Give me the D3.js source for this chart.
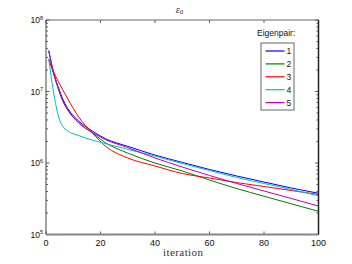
<!DOCTYPE html>
<html lang="en">
<head>
  <meta charset="UTF-8">
  <title>epsilon_0</title>
  <script src="https://d3js.org/d3.v7.min.js"></script>
  <style>
    body { margin: 0; background: #fff; }
    svg { display: block; }
    .sans { font-family: "Liberation Sans", Arial, sans-serif; }
    .serif { font-family: "Liberation Serif", "DejaVu Serif", "Times New Roman", serif; font-weight: normal; }
  </style>
</head>
<body>
  <div id="chart"></div>
  <script>
    const width = 352;
    const height = 264;

    // iterations
    const iterations = [1, 3, 5, 6, 8, 12, 17, 22, 30, 40, 50, 60, 70, 80, 90, 100];

    const pair1 = [3.72e7, 1.71e7, 1.016e7, 8.11e6, 5.78e6, 3.87e6, 2.80e6, 2.17e6, 1.71e6, 1.29e6, 1.02e6, 8.11e5, 6.58e5, 5.42e5, 4.47e5, 3.77e5];
    const pair2 = [2.85e7, 1.67e7, 9.53e6, 7.60e6, 5.51e6, 3.68e6, 2.63e6, 1.90e6, 1.375e6, 1.00e6, 7.73e5, 5.78e5, 4.39e5, 3.43e5, 2.69e5, 2.11e5];
    const pair3 = [2.85e7, 1.81e7, 1.27e7, 1.08e7, 7.86e6, 4.40e6, 2.63e6, 1.70e6, 1.175e6, 9.08e5, 7.13e5, 6.17e5, 5.32e5, 4.69e5, 4.12e5, 3.63e5];
    const pair4 = [2.85e7, 8.65e6, 3.97e6, 3.32e6, 2.81e6, 2.42e6, 2.09e6, 1.86e6, 1.55e6, 1.25e6, 9.84e5, 7.86e5, 6.27e5, 5.17e5, 4.26e5, 3.49e5];
    const pair5 = [3.72e7, 1.70e7, 9.84e6, 7.73e6, 5.51e6, 3.63e6, 2.67e6, 2.11e6, 1.64e6, 1.175e6, 8.79e5, 6.69e5, 5.17e5, 4.06e5, 3.19e5, 2.50e5];

    const labels = ["1", "2", "3", "4", "5"];
    const colors = ["#0000ff", "#008000", "#ff0000", "#00bfbf", "#bf00bf"];
    const seriesValues = [pair1, pair2, pair3, pair4, pair5];

    const xTicks = [0, 20, 40, 60, 80, 100];
    const yDecades = [5, 6, 7, 8];

    const margin = { top: 20, right: 33.5, bottom: 29.5, left: 46 };
    const iw = width - margin.left - margin.right;
    const ih = height - margin.top - margin.bottom;

    const svg = d3.select("#chart").append("svg")
      .attr("width", width)
      .attr("height", height);

    const g = svg.append("g")
      .attr("transform", `translate(${margin.left},${margin.top})`);

    const x = d3.scaleLinear().domain([0, 100]).range([0, iw]);
    const y = d3.scaleLog().domain([1e5, 1e8]).range([ih, 0]);

    // minor log ticks
    const minor = [];
    yDecades.slice(0, 3).forEach(e => {
      for (let m = 2; m <= 9; m++) minor.push(m * Math.pow(10, e));
    });

    const tickG = g.append("g").attr("stroke", "#333").attr("stroke-width", 0.8);
    minor.forEach(v => {
      tickG.append("line").attr("x1", 0).attr("x2", 2).attr("y1", y(v)).attr("y2", y(v));
      tickG.append("line").attr("x1", iw).attr("x2", iw - 2).attr("y1", y(v)).attr("y2", y(v));
    });
    yDecades.forEach(e => {
      const v = Math.pow(10, e);
      tickG.append("line").attr("x1", 0).attr("x2", 3.5).attr("y1", y(v)).attr("y2", y(v));
      tickG.append("line").attr("x1", iw).attr("x2", iw - 3.5).attr("y1", y(v)).attr("y2", y(v));
    });
    xTicks.forEach(t => {
      tickG.append("line").attr("x1", x(t)).attr("x2", x(t)).attr("y1", ih).attr("y2", ih - 3);
      tickG.append("line").attr("x1", x(t)).attr("x2", x(t)).attr("y1", 0).attr("y2", 3);
    });

    // curves
    const line = d3.line()
      .x(d => x(d[0]))
      .y(d => y(d[1]))
      .curve(d3.curveMonotoneX);

    seriesValues.forEach((vals, i) => {
      g.append("path")
        .datum(iterations.map((it, k) => [it, vals[k]]))
        .attr("fill", "none")
        .attr("stroke", colors[i])
        .attr("stroke-width", 1)
        .attr("d", line);
    });

    // box
    g.append("line").attr("x1", 0).attr("x2", iw).attr("y1", 0).attr("y2", 0)
      .attr("stroke", "#666").attr("stroke-width", 1);
    g.append("line").attr("x1", 0).attr("x2", 0).attr("y1", 0).attr("y2", ih)
      .attr("stroke", "#444").attr("stroke-width", 1);
    g.append("line").attr("x1", 0).attr("x2", iw).attr("y1", ih).attr("y2", ih)
      .attr("stroke", "#888").attr("stroke-width", 2);
    g.append("line").attr("x1", iw).attr("x2", iw).attr("y1", 0).attr("y2", ih)
      .attr("stroke", "#222").attr("stroke-width", 1.5);

    // x tick labels
    g.selectAll(".xlab").data(xTicks).enter().append("text")
      .attr("class", "sans")
      .attr("x", d => x(d))
      .attr("y", ih + 11)
      .attr("text-anchor", "middle")
      .attr("font-size", 9)
      .attr("fill", "#111")
      .text(d => d);

    // y tick labels 10^n
    yDecades.forEach(e => {
      const t = g.append("text")
        .attr("class", "sans")
        .attr("x", -3)
        .attr("y", y(Math.pow(10, e)) + 3)
        .attr("text-anchor", "end")
        .attr("font-size", 8.5)
        .attr("fill", "#111");
      t.append("tspan").text("10");
      t.append("tspan").attr("font-size", 5.5).attr("dy", -3.5).text(e);
    });

    // x axis label
    svg.append("text")
      .attr("class", "serif")
      .attr("x", margin.left + x(50) + 1)
      .attr("y", 256)
      .attr("text-anchor", "middle")
      .attr("font-size", 11)
      .attr("letter-spacing", 0.4)
      .attr("fill", "#333")
      .text("iteration");

    // title
    const title = svg.append("text")
      .attr("class", "serif")
      .attr("x", 179.5)
      .attr("y", 12.5)
      .attr("text-anchor", "middle")
      .attr("font-size", 10.5)
      .attr("fill", "#333");
    title.append("tspan").attr("font-style", "italic").text("ε");
    title.append("tspan").attr("font-size", 7).attr("dy", 1.8).text("0");

    // legend
    svg.append("text")
      .attr("class", "sans")
      .attr("x", 257)
      .attr("y", 36)
      .attr("font-size", 8.5)
      .attr("fill", "#111")
      .text("Eigenpair:");

    const lg = svg.append("g").attr("transform", "translate(261,43)");
    lg.append("rect")
      .attr("width", 33).attr("height", 67)
      .attr("fill", "#fff")
      .attr("stroke", "#666").attr("stroke-width", 1);

    labels.forEach((lab, i) => {
      const yy = 8 + i * 12.9;
      lg.append("line")
        .attr("x1", 4.5).attr("x2", 23.5)
        .attr("y1", yy).attr("y2", yy)
        .attr("stroke", colors[i]).attr("stroke-width", 1.2);
      lg.append("text")
        .attr("class", "sans")
        .attr("x", 25.5).attr("y", yy + 3)
        .attr("font-size", 8.5)
        .attr("fill", "#111")
        .text(lab);
    });
  </script>
</body>
</html>
